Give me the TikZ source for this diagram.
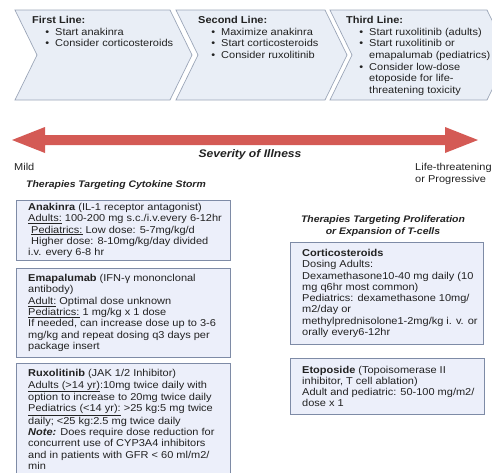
\documentclass[tikz,border=0pt]{standalone}
\usepackage{fontspec}
\setmainfont{Liberation Sans}[FakeStretch=1.1]
\usetikzlibrary{positioning,calc}
\definecolor{chevfill}{HTML}{E9EEF6}
\definecolor{chevline}{HTML}{9CA6B8}
\definecolor{boxfill}{HTML}{ECEFFA}
\definecolor{boxline}{HTML}{7E8BA6}
\definecolor{sevred}{HTML}{D45A55}
\definecolor{inktext}{HTML}{222222}
\newcommand{\chevitem}{\makebox[23pt][r]{\textbullet\hspace{6pt}}}
\newcommand{\chevcont}{\hspace*{23pt}}

\begin{document}
\begin{tikzpicture}[x=1pt,y=-1pt,
  chevron/.style={draw=chevline,fill=chevfill,line width=0.7pt},
  chevtext/.style={anchor=north west,align=left,inner sep=0pt,text=inktext,
    font=\fontsize{10}{11.7}\selectfont},
  drugbox/.style={draw=boxline,fill=boxfill,line width=0.9pt,anchor=north west,inner sep=0pt},
  boxtext/.style={anchor=west,align=left,inner sep=0pt,text=inktext,
    font=\fontsize{10}{11.3}\selectfont},
  heading/.style={inner sep=0pt,text=inktext,font=\fontsize{9.5}{11.5}\selectfont\bfseries\itshape},
  scalelabel/.style={inner sep=0pt,text=inktext,font=\fontsize{10}{12}\selectfont}]
\useasboundingbox (0,0) rectangle (492,472);

% treatment lines
\draw[chevron] (15,10) -- (170,10) -- (192,55) -- (170,100) -- (15,100) -- (37,55) -- cycle;
\draw[chevron] (176,10) -- (325,10) -- (347,55) -- (325,100) -- (176,100) -- (198,55) -- cycle;
\draw[chevron] (330,10) -- (487,10) -- (509,55) -- (487,100) -- (330,100) -- (352,55) -- cycle;

\node[chevtext] (first) at (32,16) {\textbf{First Line:}\\
  \chevitem Start anakinra\\
  \chevitem Consider corticosteroids};
\node[chevtext] (second) at (198,16) {\textbf{Second Line:}\\
  \chevitem Maximize anakinra\\
  \chevitem Start corticosteroids\\
  \chevitem Consider ruxolitinib};
\node[chevtext] (third) at (346,16) {\textbf{Third Line:}\\
  \chevitem Start ruxolitinib (adults)\\
  \chevitem Start ruxolitinib or\\
  \chevcont emapalumab (pediatrics)\\
  \chevitem Consider low-dose\\
  \chevcont etoposide for life-\\
  \chevcont threatening toxicity};

% severity scale
\fill[sevred] (12,140) -- (45,127) -- (45,135) -- (445,135) -- (445,127) -- (478,140)
  -- (445,153) -- (445,145) -- (45,145) -- (45,153) -- cycle;
\node[inner sep=0pt,text=inktext,font=\fontsize{11}{13}\selectfont\bfseries\itshape]
  (severity) at (250,155) {Severity of Illness};
\node[scalelabel,anchor=west] (mild) at (14,167) {Mild};
\node[scalelabel,anchor=north west,align=left] (severe) at (415,163) {Life-threatening\\or Progressive};

% cytokine storm therapies
\node[heading,anchor=west] (cytokine) at (26,185) {Therapies Targeting Cytokine Storm};

\node[drugbox,minimum width=214pt,minimum height=60pt] (anakinra) at (16,200) {};
\node[boxtext] (anakinra text) at ([xshift=12pt]anakinra.west) {\textbf{Anakinra} (IL-1 receptor antagonist)\\
  \underline{Adults:} 100-200 mg s.c./i.v.every 6-12hr\\
  \hspace*{3pt}\underline{Pediatrics:} Low dose: 5-7mg/kg/d\\
  \hspace*{3pt}Higher dose: 8-10mg/kg/day divided\\
  i.v. every 6-8 hr};

\node[drugbox,minimum width=214pt,minimum height=89pt] (emapalumab) at (16,268) {};
\node[boxtext] (emapalumab text) at ([xshift=12pt]emapalumab.west) {\textbf{Emapalumab} (IFN-γ mononclonal\\
  antibody)\\
  \underline{Adult:} Optimal dose unknown\\
  \underline{Pediatrics:} 1 mg/kg x 1 dose\\
  If needed, can increase dose up to 3-6\\
  mg/kg and repeat dosing q3 days per\\
  package insert};

\node[drugbox,minimum width=214pt,minimum height=112pt] (ruxolitinib) at (16,363) {};
\node[boxtext] (ruxolitinib text) at ([xshift=12pt]ruxolitinib.west) {\textbf{Ruxolitinib} (JAK 1/2 Inhibitor)\\
  \underline{Adults (>14 yr)}:10mg twice daily with\\
  option to increase to 20mg twice daily\\
  \underline{Pediatrics (<14 yr):} >25 kg:5 mg twice\\
  daily; <25 kg:2.5 mg twice daily\\
  \textbf{\textit{Note:}} Does require dose reduction for\\
  concurrent use of CYP3A4 inhibitors\\
  and in patients with GFR < 60 ml/m2/\\
  min};

% T-cell therapies
\node[heading,align=center] (tcell) at (383,226) {Therapies Targeting Proliferation\\or Expansion of T-cells};

\node[drugbox,minimum width=193pt,minimum height=102pt] (cortico) at (290,242) {};
\node[boxtext] (cortico text) at ([xshift=12pt]cortico.west) {\textbf{Corticosteroids}\\
  Dosing Adults:\\
  Dexamethasone10-40 mg daily (10\\
  mg q6hr most common)\\
  Pediatrics: dexamethasone 10mg/\\
  m2/day or\\
  methylprednisolone1-2mg/kg i. v. or\\
  orally every6-12hr};

\node[drugbox,minimum width=194pt,minimum height=56pt] (etoposide) at (290,358) {};
\node[boxtext] (etoposide text) at ([xshift=12pt]etoposide.west) {\textbf{Etoposide} (Topoisomerase II\\
  inhibitor, T cell ablation)\\
  Adult and pediatric: 50-100 mg/m2/\\
  dose x 1};
\end{tikzpicture}
\end{document}
